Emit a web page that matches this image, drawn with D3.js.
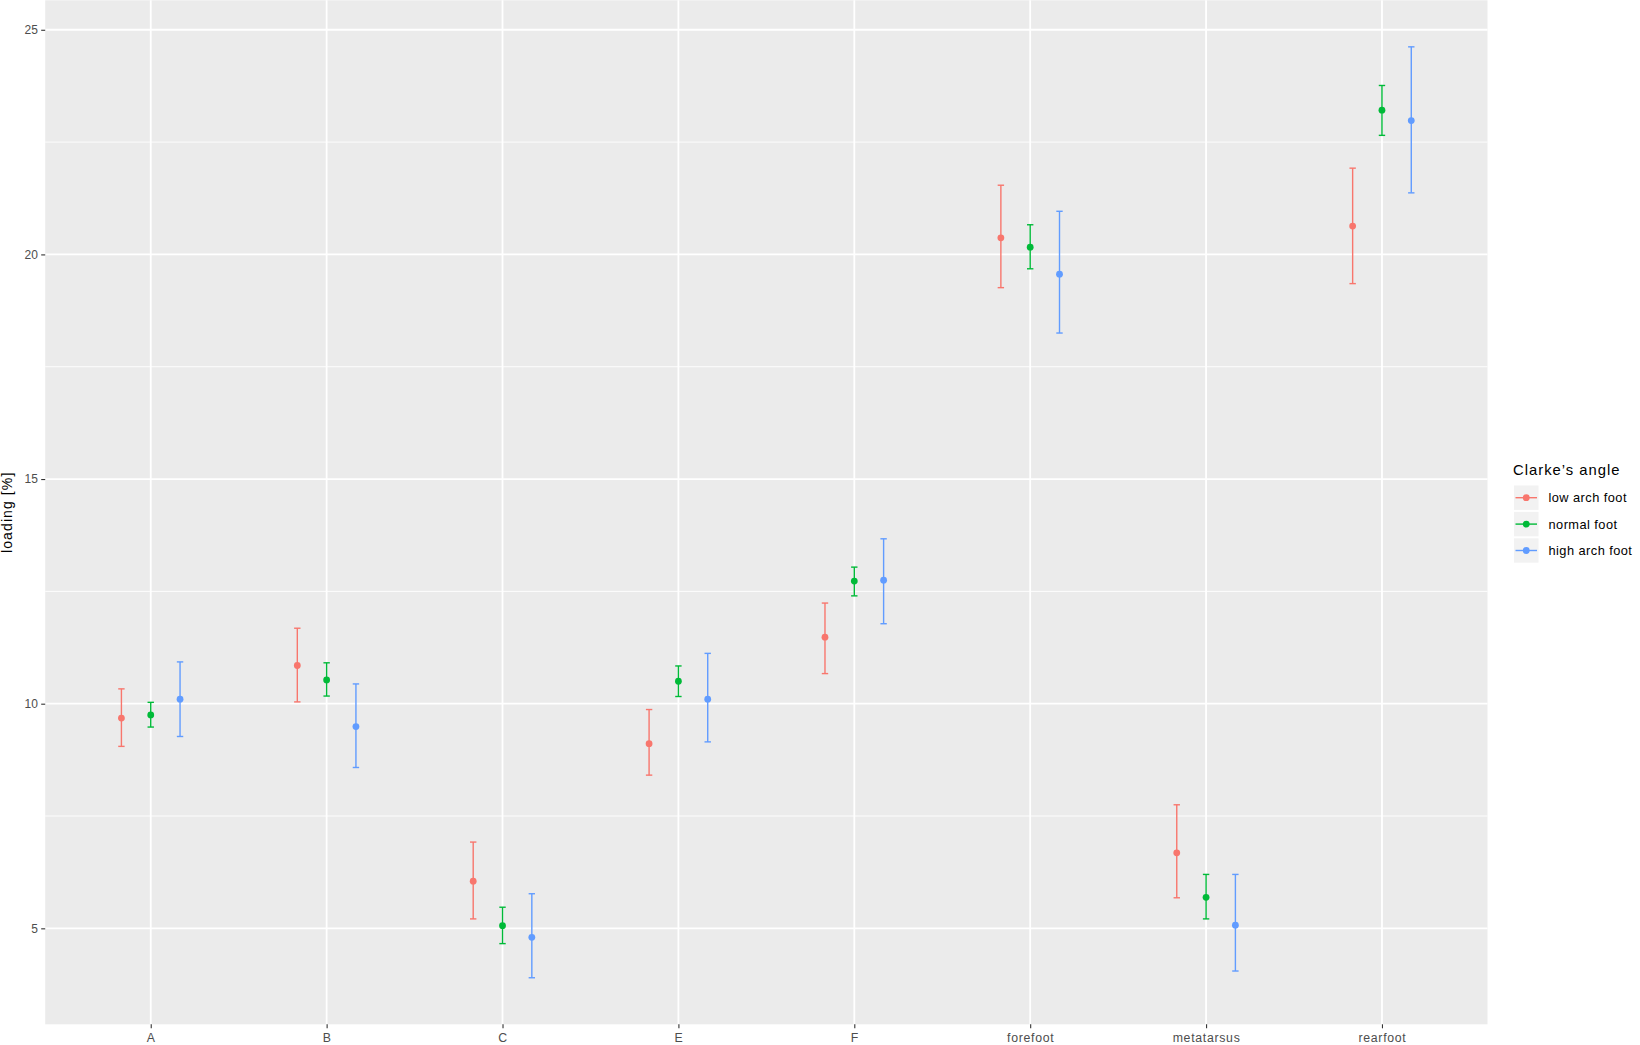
<!DOCTYPE html>
<html>
<head>
<meta charset="utf-8">
<script src="https://cdn.jsdelivr.net/npm/d3@7"></script>
<style>
  html, body { margin: 0; padding: 0; background: #ffffff; }
  svg { display: block; font-family: "Liberation Sans", Arial, sans-serif; }
</style>
</head>
<body>
<svg id="chart" width="1640" height="1045"></svg>
<script>
// ---- data ----
const categories = ["A", "B", "C", "E", "F", "forefoot", "metatarsus", "rearfoot"];
const groups = ["low arch foot", "normal foot", "high arch foot"];
const groupColors = ["#F8766D", "#00BA38", "#619CFF"];
const legendTitle = "Clarke\u2019s angle";
const yTitle = "loading [%]";
const yTicks = [5, 10, 15, 20, 25];

const lowMean  = [9.68, 10.85, 6.05, 9.11, 11.48, 20.37, 6.68, 20.63];
const lowLo    = [9.05, 10.04, 5.21, 8.41, 10.67, 19.26, 5.68, 19.35];
const lowHi    = [10.33, 11.68, 6.92, 9.87, 12.24, 21.54, 7.75, 21.92];

const normMean = [9.75, 10.53, 5.06, 10.50, 12.73, 20.16, 5.69, 23.21];
const normLo   = [9.48, 10.17, 4.66, 10.16, 12.40, 19.68, 5.21, 22.65];
const normHi   = [10.03, 10.91, 5.47, 10.84, 13.04, 20.66, 6.20, 23.76];

const highMean = [10.10, 9.49, 4.80, 10.10, 12.75, 19.56, 5.07, 22.98];
const highLo   = [9.27, 8.58, 3.90, 9.15, 11.78, 18.25, 4.05, 21.37];
const highHi   = [10.93, 10.44, 5.77, 11.12, 13.67, 20.96, 6.20, 24.62];

const seriesMean = [lowMean, normMean, highMean];
const seriesLo = [lowLo, normLo, highLo];
const seriesHi = [lowHi, normHi, highHi];

// ---- layout ----
const panel = { left: 45.2, right: 1487.5, top: 0.3, bottom: 1024.3 };
const svg = d3.select("#chart");
const FONT = "'Liberation Sans', Arial, sans-serif";

const records = [];
groups.forEach((g, gi) => {
  categories.forEach((c, ci) => {
    records.push({ cat: c, group: g, gi, mean: seriesMean[gi][ci], lo: seriesLo[gi][ci], hi: seriesHi[gi][ci] });
  });
});

// discrete x scale with ggplot-like 0.6 expansion
const xBand = d3.scalePoint().domain(categories).range([panel.left, panel.right]).padding(0.6);
const step = xBand.step();
const dodge = d3.scaleLinear().domain([0, groups.length - 1]).range([-step / 6, step / 6]);

const yMin = d3.min(records, d => d.lo), yMax = d3.max(records, d => d.hi);
const pad = (yMax - yMin) * 0.05;
const y = d3.scaleLinear().domain([yMin - pad, yMax + pad]).range([panel.bottom, panel.top]);

// panel background
svg.append("rect")
  .attr("x", panel.left).attr("y", panel.top)
  .attr("width", panel.right - panel.left).attr("height", panel.bottom - panel.top)
  .attr("fill", "#EBEBEB");

// minor grid
const minor = [];
for (let i = 0; i < yTicks.length - 1; i++) minor.push((yTicks[i] + yTicks[i + 1]) / 2);
minor.push(yTicks[0] - (yTicks[1] - yTicks[0]) / 2);
svg.append("g").selectAll("line").data(minor.filter(v => v >= y.domain()[0] && v <= y.domain()[1]))
  .join("line")
  .attr("x1", panel.left).attr("x2", panel.right)
  .attr("y1", d => y(d)).attr("y2", d => y(d))
  .attr("stroke", "#ffffff").attr("stroke-width", 0.9);

// major grid
svg.append("g").selectAll("line").data(yTicks).join("line")
  .attr("x1", panel.left).attr("x2", panel.right)
  .attr("y1", d => y(d)).attr("y2", d => y(d))
  .attr("stroke", "#ffffff").attr("stroke-width", 1.8);
svg.append("g").selectAll("line").data(categories).join("line")
  .attr("x1", d => xBand(d)).attr("x2", d => xBand(d))
  .attr("y1", panel.top).attr("y2", panel.bottom)
  .attr("stroke", "#ffffff").attr("stroke-width", 1.8);

// axes
const yAxis = d3.axisLeft(y).tickValues(yTicks).tickSize(4).tickPadding(3);
const gy = svg.append("g").attr("transform", `translate(${panel.left},0)`).call(yAxis);
gy.select(".domain").remove();
gy.selectAll(".tick line").attr("stroke", "#333333").attr("stroke-width", 1.1);
gy.selectAll(".tick text").attr("fill", "#4D4D4D").style("font-size", "12px")
  .style("letter-spacing", "0.2px").style("font-family", FONT);

const xAxis = d3.axisBottom(xBand).tickSize(4).tickPadding(4.5);
const gx = svg.append("g").attr("transform", `translate(0,${panel.bottom})`).call(xAxis);
gx.select(".domain").remove();
gx.selectAll(".tick line").attr("stroke", "#333333").attr("stroke-width", 1.1);
gx.selectAll(".tick text").attr("fill", "#4D4D4D").style("font-size", "12.3px")
  .style("letter-spacing", "0.7px").style("font-family", FONT);

// y title
svg.append("text")
  .attr("transform", `translate(12.3,${(panel.top + panel.bottom) / 2}) rotate(-90)`)
  .attr("text-anchor", "middle")
  .style("font-size", "14px").style("letter-spacing", "1.1px").attr("fill", "#000")
  .text(yTitle);

// error bars and points
const color = d3.scaleOrdinal().domain(groups).range(groupColors);
const xPos = d => xBand(d.cat) + dodge(d.gi);
const capHalf = 3.2;
const marks = svg.append("g");
marks.selectAll("line.v").data(records).join("line").attr("class", "v")
  .attr("x1", xPos).attr("x2", xPos)
  .attr("y1", d => y(d.lo)).attr("y2", d => y(d.hi))
  .attr("stroke", d => color(d.group)).attr("stroke-width", 1.4);
marks.selectAll("line.top").data(records).join("line").attr("class", "top")
  .attr("x1", d => xPos(d) - capHalf).attr("x2", d => xPos(d) + capHalf)
  .attr("y1", d => y(d.hi)).attr("y2", d => y(d.hi))
  .attr("stroke", d => color(d.group)).attr("stroke-width", 1.4);
marks.selectAll("line.bot").data(records).join("line").attr("class", "bot")
  .attr("x1", d => xPos(d) - capHalf).attr("x2", d => xPos(d) + capHalf)
  .attr("y1", d => y(d.lo)).attr("y2", d => y(d.lo))
  .attr("stroke", d => color(d.group)).attr("stroke-width", 1.4);
marks.selectAll("circle").data(records).join("circle")
  .attr("cx", xPos).attr("cy", d => y(d.mean)).attr("r", 3.4)
  .attr("fill", d => color(d.group));

// legend
const lg = svg.append("g").attr("transform", "translate(1513,0)");
lg.append("text").attr("x", 0).attr("y", 474.5)
  .style("font-size", "14.8px").style("letter-spacing", "1px").attr("fill", "#000").text(legendTitle);
const keyH = 26.4, keyTop = 485.5, keyW = 24.5;
groups.forEach((g, i) => {
  const ky = keyTop + i * keyH;
  lg.append("rect").attr("x", 1).attr("y", ky).attr("width", keyW).attr("height", keyH - 2)
    .attr("fill", "#F2F2F2");
  const cy = ky + (keyH - 2) / 2;
  lg.append("line").attr("x1", 2.5).attr("x2", keyW - 0.5).attr("y1", cy).attr("y2", cy)
    .attr("stroke", groupColors[i]).attr("stroke-width", 1.4);
  lg.append("circle").attr("cx", 1 + keyW / 2).attr("cy", cy).attr("r", 3.4).attr("fill", groupColors[i]);
  lg.append("text").attr("x", 35.5).attr("y", cy + 4.5)
    .style("font-size", "12.8px").style("letter-spacing", "0.45px").attr("fill", "#000").text(g);
});
</script>
</body>
</html>
